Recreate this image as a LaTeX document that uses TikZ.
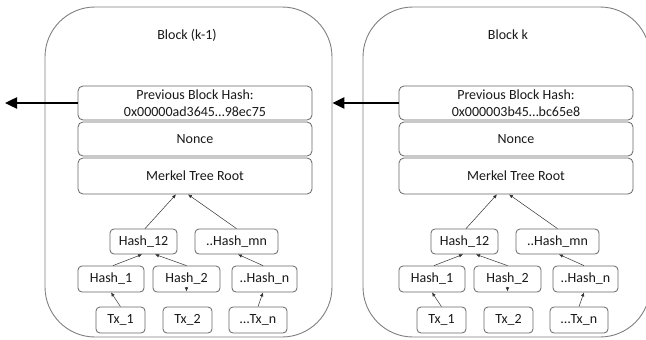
\documentclass[tikz,border=0pt]{standalone}
\usepackage{fontspec}
\setmainfont{Carlito}
\usetikzlibrary{arrows.meta}

\tikzset{
  every node/.style={font=\fontsize{14}{17}\selectfont, text=black!90},
  blk/.style={draw=black!50, line width=0.9pt, rounded corners=50pt,
    minimum width=287pt, minimum height=330pt, inner sep=0pt},
  field/.style={draw=black!60, line width=0.8pt, rounded corners=5pt,
    minimum width=234pt, inner sep=0pt, align=center},
  hbox/.style={draw=black!60, line width=0.8pt, rounded corners=4pt,
    inner sep=0pt, minimum height=25pt},
  link/.style={-{Latex[length=4pt,width=3.5pt]}, line width=0.5pt, black!80},
  chain/.style={-{Triangle[length=12pt,width=11pt]}, line width=2.4pt}
}

\begin{document}
\begin{tikzpicture}[x=1pt,y=-1pt]
  \path[use as bounding box, fill=white] (0,0) rectangle (646,340);
  \clip (0,0) rectangle (646,340);

  % one block per entry: name / shift / outer centre / title / hash
  \foreach \b/\dx/\ox/\title/\hash in
    {L/0/188.5/Block (k-1)/0x00000ad3645\ldots98ec75,
     R/321/506.5/Block k/0x000003b45\ldots bc65e8}{
    \node[blk] (\b-blk) at (\ox,172) {};
    \node (\b-tt) at (187+\dx,35) {\title};

    \node[field,minimum height=34pt] (\b-prev) at (195+\dx,103) {Previous Block Hash:\\\hash};
    \node[field,minimum height=34pt] (\b-nc) at (195+\dx,139) {Nonce};
    \node[field,minimum height=36pt] (\b-mr) at (195+\dx,176) {Merkel Tree Root};

    \node[hbox,minimum width=67pt] (\b-h12) at (143.5+\dx,241.5) {Hash\_12};
    \node[hbox,minimum width=83pt] (\b-hmn) at (236.5+\dx,241.5) {..Hash\_mn};
    \node[hbox,minimum width=66pt,minimum height=26pt] (\b-h1) at (111+\dx,279) {Hash\_1};
    \node[hbox,minimum width=67pt,minimum height=26pt] (\b-h2) at (186.5+\dx,279) {Hash\_2};
    \node[hbox,minimum width=65pt,minimum height=26pt] (\b-hn) at (264.5+\dx,279) {..Hash\_n};
    \node[hbox,minimum width=49pt,minimum height=26pt] (\b-t1) at (120.5+\dx,320) {Tx\_1};
    \node[hbox,minimum width=49pt,minimum height=26pt] (\b-t2) at (187.5+\dx,320) {Tx\_2};
    \node[hbox,minimum width=58pt,minimum height=26pt] (\b-tn) at (258+\dx,320) {\ldots Tx\_n};

    \foreach \f/\fx/\t/\tx in {h12/1.5/mr/-19, hmn/0/mr/-7, h1/2/h12/-1.5,
        h2/0/h12/11.5, hn/-1.5/hmn/1.5, t1/0/h1/0, tn/0/hn/-1.5}
      \draw[link] ([xshift=\fx pt]\b-\f.north) -- ([xshift=\tx pt]\b-\t.south);
    \draw[link] ([yshift=5pt]\b-h2.south) -- ([yshift=1pt]\b-h2.south);
  }

  % links back to the previous block
  \coordinate (out) at (5,103);
  \draw[chain] (L-prev.west) -- (out);
  \draw[chain] (R-prev.west) -- (L-blk.east |- R-prev.west);
\end{tikzpicture}
\end{document}
